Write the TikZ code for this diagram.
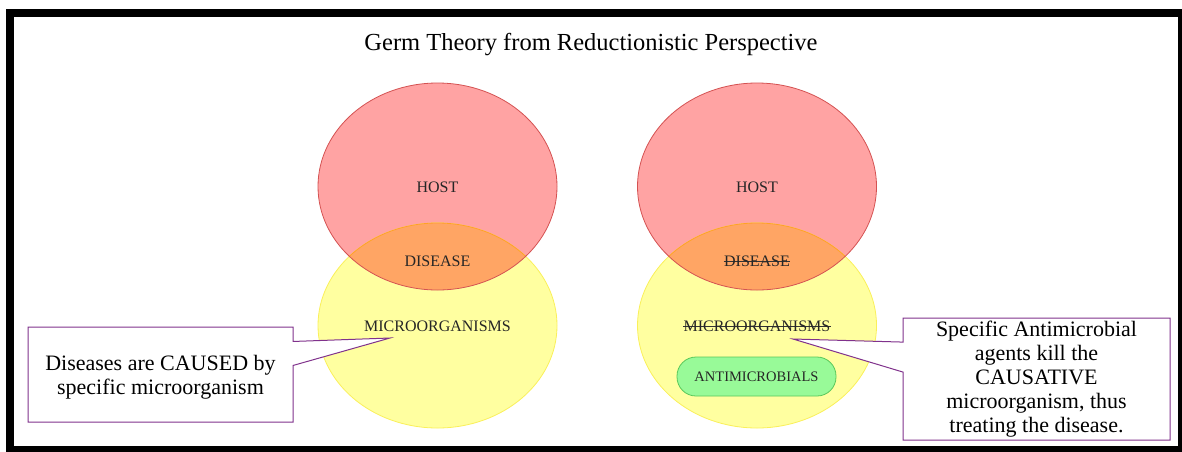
\documentclass[tikz,border=0pt]{standalone}
\usepackage{fontspec}
\setmainfont{Liberation Serif}
\usetikzlibrary{shapes.callouts}

\definecolor{hostpink}{RGB}{255,163,163}
\definecolor{hostred}{RGB}{212,82,82}
\definecolor{microyel}{RGB}{255,255,160}
\definecolor{microedge}{RGB}{250,240,90}
\definecolor{overlaporange}{RGB}{255,165,100}
\definecolor{overlapedge}{RGB}{255,160,40}
\definecolor{drugfill}{RGB}{152,250,152}
\definecolor{drugedge}{RGB}{90,200,90}
\definecolor{notepurple}{RGB}{128,50,140}

\tikzset{
  vennlbl/.style={font=\fontsize{16}{18}\selectfont, text=black!85},
  struck/.style={inner xsep=0.5pt, path picture={
      \draw[black!80, line width=1pt] (path picture bounding box.west) -- (path picture bounding box.east);}},
  notebox/.style={rectangle callout, draw=notepurple, line width=1pt, fill=white,
    align=center, inner sep=0pt, font=\fontsize{22}{24}\selectfont},
}

\begin{document}
\begin{tikzpicture}[x=1pt, y=-1pt]
            % page and frame
            \useasboundingbox (0,0) rectangle (1182,451);
            \draw[line width=8pt] (10,13) rectangle (1182,450);
            \node[font=\fontsize{24.5}{27}\selectfont] (title) at (591,45) {Germ Theory from Reductionistic Perspective};

            % the two Venn pictures
            \foreach \cx in {437.5, 757} {
              \fill[hostpink] (\cx,186.5) ellipse (119.5 and 103.5);
              \fill[microyel] (\cx,325.5) ellipse (119.5 and 102.5);
              \draw[microedge, line width=0.8pt] (\cx,325.5) ellipse (119.5 and 102.5);
              \begin{scope}
                \clip (\cx,186.5) ellipse (119.5 and 103.5);
                \fill[overlaporange] (\cx,325.5) ellipse (119.5 and 102.5);
                \draw[overlapedge, line width=0.8pt] (\cx,325.5) ellipse (119.5 and 102.5);
              \end{scope}
              \draw[hostred, line width=0.8pt] (\cx,186.5) ellipse (119.5 and 103.5);
            }

            % labels, left
            \node[vennlbl] (hostL) at (437.5,187) {HOST};
            \node[vennlbl] (diseaseL) at (437.5,261) {DISEASE};
            \node[vennlbl] (microL) at (437.5,326) {MICROORGANISMS};

            % labels, right
            \node[vennlbl] (hostR) at (757,187) {HOST};
            \node[vennlbl, struck] (diseaseR) at (757,261) {DISEASE};
            \node[vennlbl, struck] (microR) at (757,326) {MICROORGANISMS};
            \node[vennlbl, draw=drugedge, fill=drugfill, line width=0.8pt, rounded corners=19pt,
                  minimum width=159pt, minimum height=39pt, font=\fontsize{14.5}{16}\selectfont] (drug) at (756.5,376.5) {ANTIMICROBIALS};

            % callouts
            \coordinate (lefttip) at (390,338);
            \coordinate (righttip) at (793,339);
            \node[notebox, minimum width=265pt, minimum height=95pt, callout absolute pointer={(lefttip)},
                  callout pointer width=24pt] (causenote) at (160.5,374.5) {\rule{0pt}{20pt}Diseases are CAUSED by\\specific microorganism};
            \node[notebox, minimum width=267pt, minimum height=122pt, callout absolute pointer={(righttip)},
                  callout pointer width=30pt] (curenote) at (1036.5,379) {Specific Antimicrobial\\agents kill the\\CAUSATIVE\\microorganism, thus\\treating the disease.};
\end{tikzpicture}
\end{document}
